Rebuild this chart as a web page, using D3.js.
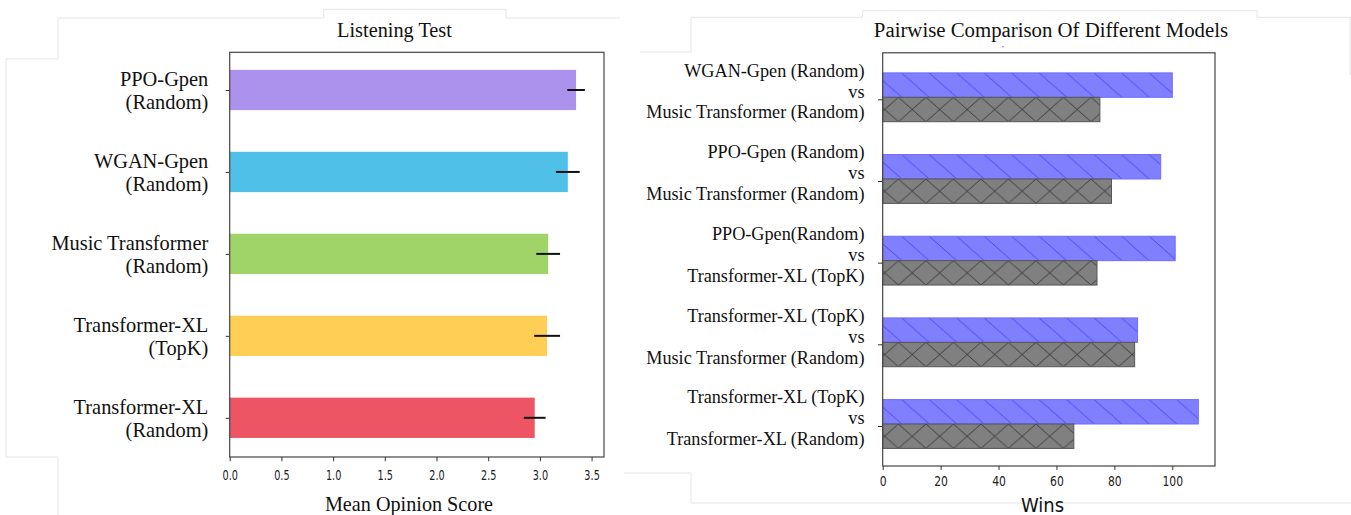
<!DOCTYPE html>
<html><head><meta charset="utf-8">
<script src="https://cdn.jsdelivr.net/npm/d3@7"></script>
<style>body{margin:0;background:#fff}svg{display:block}</style>
</head><body>
<svg id="c" width="1351" height="515"></svg>
<script>
// ---- data ----
const models = ["PPO-Gpen\n(Random)", "WGAN-Gpen\n(Random)", "Music Transformer\n(Random)", "Transformer-XL\n(TopK)", "Transformer-XL\n(Random)"];
const mosValues = [3.35, 3.27, 3.08, 3.07, 2.95];
const mosErrors = [0.085, 0.115, 0.115, 0.125, 0.105];
const modelColors = ["#AC92EC", "#4FC1E9", "#A0D468", "#FFCE54", "#ED5565"];
const mosTicks = [0, 0.5, 1.0, 1.5, 2.0, 2.5, 3.0, 3.5];

const pairs = ["WGAN-Gpen (Random)\nvs\nMusic Transformer (Random)",
  "PPO-Gpen (Random)\nvs\nMusic Transformer (Random)",
  "PPO-Gpen(Random)\nvs\nTransformer-XL (TopK)",
  "Transformer-XL (TopK)\nvs\nMusic Transformer (Random)",
  "Transformer-XL (TopK)\nvs\nTransformer-XL (Random)"];
const firstWins = [100, 96, 101, 88, 109];
const secondWins = [75, 79, 74, 87, 66];
const winTicks = [0, 20, 40, 60, 80, 100];

// ---- layout ----
const svg = d3.select("#c");
const SERIF = "'Liberation Serif','Times New Roman',serif";
const SANS = "'DejaVu Sans',sans-serif";

// faint background panel outlines
const faint = svg.append("g").attr("fill", "none").attr("stroke", "#e6e6e6").attr("stroke-width", 1);
faint.append("path").attr("d", "M6,457V59H58V18H323.6V9.3H506V18H620");
faint.append("path").attr("d", "M6,457H58V515");
faint.append("path").attr("d", "M640,52H691V17.3H862.7V10.7H1257V17.3H1351");
faint.append("path").attr("d", "M1350,17V75");
faint.append("path").attr("d", "M624,473H691V503H1351");

// ================= LEFT CHART =================
const L = {left: 229.7, right: 604, top: 52.3, bottom: 457};
const x1 = d3.scaleLinear().domain([0, 3.62]).range([L.left, L.right]);
const y1 = d3.scalePoint().domain(models).range([L.top + 37.7, L.bottom - 39.2]);
const barH1 = 40.3;

const gL = svg.append("g");
gL.selectAll("rect.bar").data(models).join("rect")
  .attr("x", x1(0)).attr("y", d => y1(d) - barH1 / 2)
  .attr("width", (d, i) => x1(mosValues[i]) - x1(0)).attr("height", barH1)
  .attr("fill", (d, i) => modelColors[i]);
gL.selectAll("line.err").data(models).join("line")
  .attr("x1", (d, i) => x1(mosValues[i] - mosErrors[i]))
  .attr("x2", (d, i) => x1(mosValues[i] + mosErrors[i]))
  .attr("y1", d => y1(d)).attr("y2", d => y1(d))
  .attr("stroke", "#111").attr("stroke-width", 2);

gL.append("rect").attr("x", L.left).attr("y", L.top)
  .attr("width", L.right - L.left).attr("height", L.bottom - L.top)
  .attr("fill", "none").attr("stroke", "#444").attr("stroke-width", 1.2);

const axL = gL.append("g").attr("transform", `translate(0,${L.bottom})`)
  .call(d3.axisBottom(x1).tickValues(mosTicks).tickFormat(d3.format(".1f")).tickSize(4.3).tickPadding(9));
axL.select(".domain").remove();
axL.selectAll("line").attr("stroke", "#333");
axL.selectAll("text").attr("font-family", SANS).attr("font-size", 13.5).attr("fill", "#222")
  .attr("transform", "scale(0.72,1)");

const ayL = gL.append("g").attr("transform", `translate(${L.left},0)`)
  .call(d3.axisLeft(y1).tickSize(4).tickPadding(17.4));
ayL.select(".domain").remove();
ayL.selectAll("line").attr("stroke", "#333");
ayL.selectAll(".tick").each(function(d) {
  const t = d3.select(this).select("text");
  const x = +t.attr("x");
  t.text(null).attr("dy", null).attr("font-family", SERIF).attr("font-size", 20.4).attr("fill", "#111");
  const offs = [-4.3, 18.6];
  d.split("\n").forEach((ln, j) => t.append("tspan").attr("x", x).attr("y", offs[j]).text(ln));
});

gL.append("text").attr("x", 394.5).attr("y", 37).attr("text-anchor", "middle")
  .attr("font-family", SERIF).attr("font-size", 20.3).attr("fill", "#111").text("Listening Test");
gL.append("text").attr("x", 409).attr("y", 511).attr("text-anchor", "middle")
  .attr("font-family", SERIF).attr("font-size", 20.2).attr("fill", "#111").text("Mean Opinion Score");

// ================= RIGHT CHART =================
const R = {left: 882.7, right: 1215, top: 52.8, bottom: 466};
const x2 = d3.scaleLinear().domain([0, 114.75]).range([R.left, R.right]);
const y2 = d3.scalePoint().domain(pairs).range([R.top + 44.5, R.bottom - 42]);
const barH2 = 24.4;
const S = 27.5;

const defs = svg.append("defs");
function hatchBlue(id, yTop) {
  const p = defs.append("pattern").attr("id", id).attr("patternUnits", "userSpaceOnUse")
    .attr("x", x2(0) - 8.5).attr("y", yTop).attr("width", S).attr("height", barH2);
  p.append("rect").attr("width", S).attr("height", barH2).attr("fill", "#8080ff");
  const segs = [[0, 0, S, barH2], [-S, 0, S, 2 * barH2], [0, -barH2, 2 * S, barH2]];
  segs.forEach(s => p.append("line").attr("x1", s[0]).attr("y1", s[1]).attr("x2", s[2]).attr("y2", s[3])
    .attr("stroke", "#4040f0").attr("stroke-width", 0.9));
}
function hatchGray(id, yTop) {
  const p = defs.append("pattern").attr("id", id).attr("patternUnits", "userSpaceOnUse")
    .attr("x", x2(0) + 2 - S / 2).attr("y", yTop).attr("width", S).attr("height", barH2);
  p.append("rect").attr("width", S).attr("height", barH2).attr("fill", "#808080");
  const segs = [[0, 0, S, barH2], [S, 0, 0, barH2]];
  segs.forEach(s => p.append("line").attr("x1", s[0]).attr("y1", s[1]).attr("x2", s[2]).attr("y2", s[3])
    .attr("stroke", "#333").attr("stroke-width", 0.9));
}
pairs.forEach((d, i) => {
  hatchBlue("hb" + i, y2(d) - barH2);
  hatchGray("hg" + i, y2(d));
});

const gR = svg.append("g");
gR.selectAll("rect.first").data(pairs).join("rect")
  .attr("x", x2(0)).attr("y", d => y2(d) - barH2)
  .attr("width", (d, i) => x2(firstWins[i]) - x2(0)).attr("height", barH2)
  .attr("fill", (d, i) => `url(#hb${i})`).attr("stroke", "#6b6bff").attr("stroke-width", 1);
gR.selectAll("rect.second").data(pairs).join("rect")
  .attr("x", x2(0)).attr("y", d => y2(d))
  .attr("width", (d, i) => x2(secondWins[i]) - x2(0)).attr("height", barH2)
  .attr("fill", (d, i) => `url(#hg${i})`).attr("stroke", "#555").attr("stroke-width", 1);

gR.append("rect").attr("x", R.left).attr("y", R.top)
  .attr("width", R.right - R.left).attr("height", R.bottom - R.top)
  .attr("fill", "none").attr("stroke", "#444").attr("stroke-width", 1.2);

const axR = gR.append("g").attr("transform", `translate(0,${R.bottom})`)
  .call(d3.axisBottom(x2).tickValues(winTicks).tickSize(4).tickPadding(6.4));
axR.select(".domain").remove();
axR.selectAll("line").attr("stroke", "#333");
axR.selectAll("text").attr("font-family", SANS).attr("font-size", 13.5).attr("fill", "#222")
  .attr("transform", "scale(0.8,1)");

const ayR = gR.append("g").attr("transform", `translate(${R.left},0)`)
  .call(d3.axisLeft(y2).tickSize(4.7).tickPadding(13.5));
ayR.select(".domain").remove();
ayR.selectAll("line").attr("stroke", "#333").attr("transform", "translate(0,2)");
ayR.selectAll(".tick").each(function(d) {
  const t = d3.select(this).select("text");
  const x = +t.attr("x");
  t.text(null).attr("dy", null).attr("font-family", SERIF).attr("font-size", 18.2).attr("fill", "#111");
  const offs = [-21.3, -0.3, 20.7];
  d.split("\n").forEach((ln, j) => t.append("tspan").attr("x", x).attr("y", offs[j]).text(ln));
});

gR.append("text").attr("x", 1051).attr("y", 37).attr("text-anchor", "middle")
  .attr("font-family", SERIF).attr("font-size", 20.8).attr("fill", "#111").text("Pairwise Comparison Of Different Models");
gR.append("circle").attr("cx", 1003).attr("cy", 46.7).attr("r", 0.8).attr("fill", "#888");
gR.append("text").attr("x", 1042.5).attr("y", 512).attr("text-anchor", "middle")
  .attr("font-family", SANS).attr("font-size", 20).attr("fill", "#111")
  .attr("transform", "translate(1042.5,0) scale(0.9,1) translate(-1042.5,0)").text("Wins");
</script>
</body></html>
